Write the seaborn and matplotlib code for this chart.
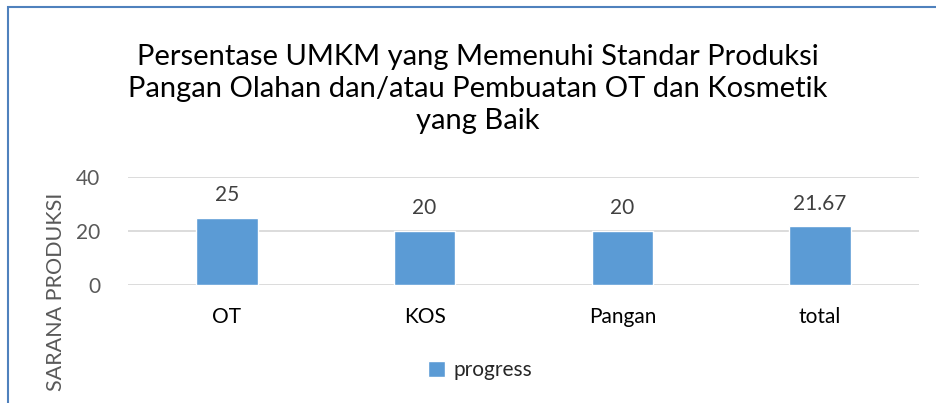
import matplotlib.pyplot as plt
import matplotlib.patches as mpatches
import pandas as pd
import seaborn as sns

# Chart data
categories = ['OT', 'KOS', 'Pangan', 'total']
progress = [25, 20, 20, 21.67]
value_labels = ['25', '20', '20', '21.67']

df = pd.DataFrame({'Kategori': categories, 'progress': progress})

sns.set_style('white')
plt.rcParams['font.family'] = ['Lato', 'DejaVu Sans']

fig = plt.figure(figsize=(9.37, 4.03), dpi=100)
ax = fig.add_axes([128 / 937, 1 - 285 / 403, (919 - 128) / 937, (285 - 177) / 403])

bar_color = '#5B9BD5'
sns.barplot(data=df, x='Kategori', y='progress', color=bar_color, width=0.31,
            saturation=1, ax=ax, label='progress')

ax.set_ylim(0, 40)
ax.set_yticks([0, 20, 40])
ax.yaxis.grid(True, color='#d9d9d9', linewidth=1.3)
ax.set_axisbelow(True)
for s in ax.spines.values():
    s.set_visible(False)
ax.tick_params(axis='y', labelsize=15, labelcolor='#595959', length=0, pad=20)
ax.tick_params(axis='x', labelsize=15, labelcolor='black', length=0, pad=16)
ax.set_xlabel('')
ax.set_ylabel('SARANA PRODUKSI', fontsize=15.5, color='#595959')
ax.yaxis.set_label_coords((66 - 128) / 791, (285 - 292) / 108)

for i, (v, lab) in enumerate(zip(progress, value_labels)):
    ax.annotate(lab, (i, v), xytext=(0, 9), textcoords='offset points',
                ha='center', va='bottom', fontsize=15, color='#404040')

fig.text(478 / 937, 1 - 89 / 403,
         'Persentase UMKM yang Memenuhi Standar Produksi\n'
         'Pangan Olahan dan/atau Pembuatan OT dan Kosmetik\n'
         'yang Baik',
         ha='center', va='center', fontsize=21, color='black', linespacing=1.3)

ax.legend(loc='center', bbox_to_anchor=(480 / 937, 1 - 370 / 403),
          bbox_transform=fig.transFigure, frameon=False, fontsize=15,
          handlelength=0.8, handleheight=0.8, handletextpad=0.4)

# blue outer frame (left and top edges visible)
frame = mpatches.Rectangle((8 / 937, -0.1), 1.2, 1 - 7 / 403 + 0.1,
                           transform=fig.transFigure, fill=False,
                           edgecolor='#4f81bd', linewidth=1.5)
fig.patches.append(frame)

fig.savefig('out.png', dpi=100)
